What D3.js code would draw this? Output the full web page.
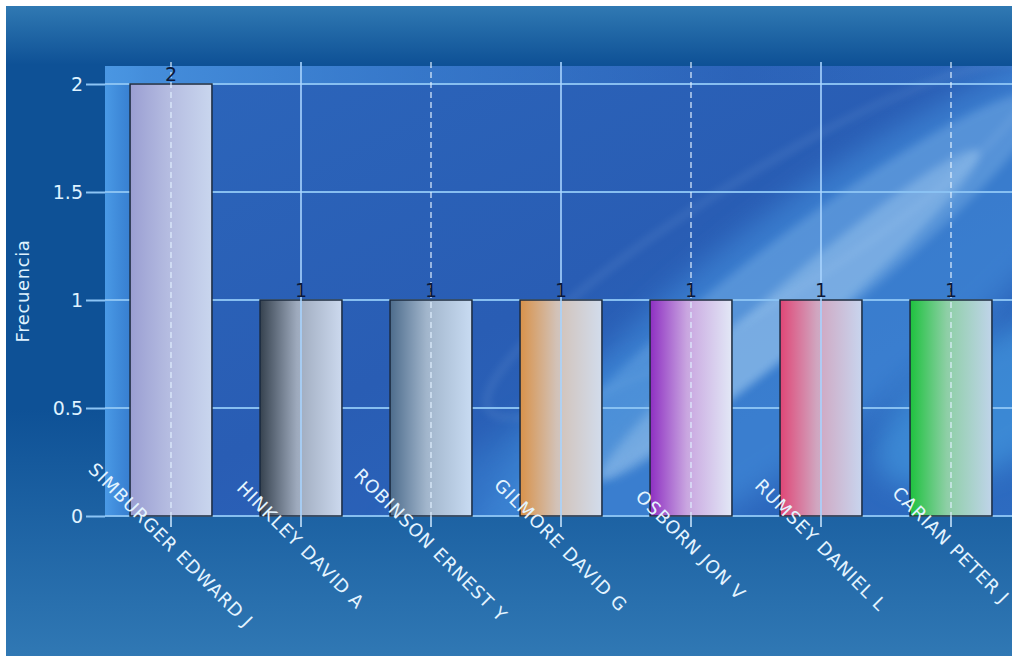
<!DOCTYPE html>
<html><head><meta charset="utf-8">
<script src="https://cdn.jsdelivr.net/npm/d3@7"></script>
<style>
html,body{margin:0;padding:0;background:#fff;}
svg{display:block;}
text{font-family:"DejaVu Sans",Verdana,sans-serif;}
</style></head>
<body>
<svg id="chart" width="1012" height="657"></svg>
<script>
const categories = ["SIMBURGER EDWARD J","HINKLEY DAVID A","ROBINSON ERNEST Y","GILMORE DAVID G","OSBORN JON V","RUMSEY DANIEL L","CARIAN PETER J"];
const values = [2,1,1,1,1,1,1];
const yTicks = [0,0.5,1,1.5,2];
const yTickLabels = ["0","0.5","1","1.5","2"];
const barColors = [
  ["#9a9ed2","#b4bbe0","#c9d6ee"],
  ["#36424f","#9eaabd","#ccd9ee"],
  ["#4d6c8c","#a2b6cc","#c8dbf2"],
  ["#d8924a","#d2c2b8","#d2dcec"],
  ["#8e2fc2","#c9a6e0","#e2e8f6"],
  ["#e04676","#d0a6c0","#c8d5ee"],
  ["#1ec23e","#8ecfa6","#c0d4ea"]
];
const yTitle = "Frecuencia";

const svg = d3.select("#chart");
const defs = svg.append("defs");

const W=1012,H=657;
const plot = {left:105, top:66, right:1012, bottom:516};

// outer background gradient
const og = defs.append("linearGradient").attr("id","outerBg").attr("x1",0).attr("y1",0).attr("x2",0).attr("y2",1);
og.append("stop").attr("offset","0").attr("stop-color","#3079b3");
og.append("stop").attr("offset","0.09").attr("stop-color","#0e5196");
og.append("stop").attr("offset","0.62").attr("stop-color","#0e5196");
og.append("stop").attr("offset","1").attr("stop-color","#3078b4");
svg.append("rect").attr("x",6).attr("y",6).attr("width",W-6).attr("height",650).attr("fill","url(#outerBg)");

// plot background
const pg = defs.append("linearGradient").attr("id","plotBg").attr("x1",0).attr("y1",0).attr("x2",1).attr("y2",1);
pg.append("stop").attr("offset","0").attr("stop-color","#2c66bb");
pg.append("stop").attr("offset","0.5").attr("stop-color","#295db4");
pg.append("stop").attr("offset","1").attr("stop-color","#2d6bc0");
defs.append("clipPath").attr("id","plotClip").append("rect")
  .attr("x",plot.left).attr("y",plot.top).attr("width",plot.right-plot.left).attr("height",plot.bottom-plot.top);
const bgG = svg.append("g").attr("clip-path","url(#plotClip)");
bgG.append("rect").attr("x",plot.left).attr("y",plot.top).attr("width",plot.right-plot.left).attr("height",plot.bottom-plot.top).attr("fill","url(#plotBg)");

// left light strip
const ls = defs.append("linearGradient").attr("id","leftStrip").attr("x1",0).attr("y1",0).attr("x2",1).attr("y2",0);
ls.append("stop").attr("offset","0").attr("stop-color","#4a9ae6").attr("stop-opacity",1);
ls.append("stop").attr("offset","0.6").attr("stop-color","#3c88d8").attr("stop-opacity",0.8);
ls.append("stop").attr("offset","1").attr("stop-color","#3c88d8").attr("stop-opacity",0);
bgG.append("rect").attr("x",plot.left).attr("y",plot.top).attr("width",40).attr("height",plot.bottom-plot.top).attr("fill","url(#leftStrip)");
// top light strip
const ts = defs.append("linearGradient").attr("id","topStrip").attr("x1",0).attr("y1",0).attr("x2",1).attr("y2",0);
ts.append("stop").attr("offset","0").attr("stop-color","#4a96e2").attr("stop-opacity",0.9);
ts.append("stop").attr("offset","0.35").attr("stop-color","#3d84d4").attr("stop-opacity",0.6);
ts.append("stop").attr("offset","0.7").attr("stop-color","#3d84d4").attr("stop-opacity",0.1);
ts.append("stop").attr("offset","1").attr("stop-color","#3d84d4").attr("stop-opacity",0.3);
bgG.append("rect").attr("x",plot.left).attr("y",plot.top).attr("width",plot.right-plot.left).attr("height",17).attr("fill","url(#topStrip)");

// swooshes
const blur = defs.append("filter").attr("id","blur").attr("x","-50%").attr("y","-50%").attr("width","200%").attr("height","200%");
blur.append("feGaussianBlur").attr("stdDeviation",14);
const blur2 = defs.append("filter").attr("id","blur2").attr("x","-50%").attr("y","-50%").attr("width","200%").attr("height","200%");
blur2.append("feGaussianBlur").attr("stdDeviation",4);
bgG.append("ellipse").attr("cx",0).attr("cy",0).attr("rx",420).attr("ry",110)
  .attr("transform","translate(810,320) rotate(-38)").attr("fill","#4a98e4").attr("opacity",0.5).attr("filter","url(#blur)");
bgG.append("ellipse").attr("cx",0).attr("cy",0).attr("rx",330).attr("ry",50)
  .attr("transform","translate(780,300) rotate(-38)").attr("fill","#bfe6ff").attr("opacity",0.22).attr("filter","url(#blur2)");
bgG.append("ellipse").attr("cx",0).attr("cy",0).attr("rx",250).attr("ry",28)
  .attr("transform","translate(790,315) rotate(-41)").attr("fill","#d8f2ff").attr("opacity",0.26).attr("filter","url(#blur2)");
bgG.append("ellipse").attr("cx",0).attr("cy",0).attr("rx",320).attr("ry",62)
  .attr("transform","translate(760,240) rotate(-32)").attr("fill","none").attr("stroke","#cfeaff").attr("stroke-width",3).attr("opacity",0.22).attr("filter","url(#blur2)");
bgG.append("ellipse").attr("cx",0).attr("cy",0).attr("rx",140).attr("ry",60)
  .attr("transform","translate(1000,400) rotate(-30)").attr("fill","#4fb0f0").attr("opacity",0.45).attr("filter","url(#blur)");
bgG.append("ellipse").attr("cx",0).attr("cy",0).attr("rx",200).attr("ry",40)
  .attr("transform","translate(520,470) rotate(-35)").attr("fill","#3e8ad8").attr("opacity",0.4).attr("filter","url(#blur)");

// scales
const x = d3.scaleBand().domain(categories).range([106,1016]).paddingInner(0.37).paddingOuter(0.185);
const y = d3.scaleLinear().domain([0,2]).range([516,84]);

const gridColor = "#8cc4f4";
// horizontal gridlines (behind bars)
svg.append("g").selectAll("line").data(yTicks).join("line")
  .attr("x1",plot.left).attr("x2",plot.right)
  .attr("y1",d=>y(d)).attr("y2",d=>y(d))
  .attr("stroke",gridColor).attr("stroke-width",2).attr("opacity",0.95);

// bar gradients
barColors.forEach((c,i)=>{
  const g = defs.append("linearGradient").attr("id","bar"+i).attr("x1",0).attr("y1",0).attr("x2",1).attr("y2",0);
  g.append("stop").attr("offset","0").attr("stop-color",c[0]);
  g.append("stop").attr("offset","0.45").attr("stop-color",c[1]);
  g.append("stop").attr("offset","1").attr("stop-color",c[2]);
});

// bars
svg.append("g").selectAll("rect").data(categories).join("rect")
  .attr("x",d=>x(d)).attr("y",(d,i)=>y(values[i]))
  .attr("width",x.bandwidth()).attr("height",(d,i)=>y(0)-y(values[i]))
  .attr("fill",(d,i)=>`url(#bar${i})`)
  .attr("stroke","#1b2a3e").attr("stroke-width",1.5);

// vertical gridlines (over bars)
svg.append("g").selectAll("line").data(categories).join("line")
  .attr("x1",d=>x(d)+x.bandwidth()/2).attr("x2",d=>x(d)+x.bandwidth()/2)
  .attr("y1",62).attr("y2",516)
  .attr("stroke",(d,i)=> i%2===0 ? "#e0f0ff" : "#a8d4ff")
  .attr("stroke-width",(d,i)=> i%2===0 ? 1.5 : 2)
  .attr("stroke-dasharray",(d,i)=> i%2===0 ? "6,4" : null)
  .attr("opacity",0.8);

// value labels
svg.append("g").selectAll("text").data(categories).join("text")
  .attr("x",d=>x(d)+x.bandwidth()/2).attr("y",(d,i)=>y(values[i])-3)
  .attr("text-anchor","middle").attr("font-size",19).attr("fill","#0c1838")
  .text((d,i)=>values[i]);

// y axis
const yAxis = d3.axisLeft(y).tickValues(yTicks).tickFormat((d,i)=>yTickLabels[i]).tickSize(19).tickPadding(3);
const yg = svg.append("g").attr("transform",`translate(${plot.left},0)`).call(yAxis);
yg.select(".domain").remove();
yg.selectAll(".tick line").attr("stroke",gridColor).attr("stroke-width",2);
yg.selectAll(".tick text").attr("fill","#dff2ff").attr("font-size",19).attr("font-family","DejaVu Sans, sans-serif");

// x axis ticks
const xAxis = d3.axisBottom(x).tickSize(11).tickFormat("");
const xg = svg.append("g").attr("transform",`translate(0,${plot.bottom})`).call(xAxis);
xg.select(".domain").remove();
xg.selectAll(".tick line").attr("stroke","#cfe8ff").attr("stroke-width",1.5);

// x labels rotated
svg.append("g").selectAll("text").data(categories).join("text")
  .attr("transform",d=>`translate(${x(d)+x.bandwidth()/2},545) rotate(45)`)
  .attr("text-anchor","middle").attr("dominant-baseline","central")
  .attr("font-size",18).attr("letter-spacing",1).attr("fill","#e4f4ff")
  .text(d=>d);

// y title
svg.append("text").attr("transform","translate(22,291) rotate(-90)")
  .attr("text-anchor","middle").attr("dominant-baseline","central")
  .attr("font-size",18).attr("letter-spacing",0.6).attr("fill","#dff2ff").text(yTitle);
</script>
</body></html>
